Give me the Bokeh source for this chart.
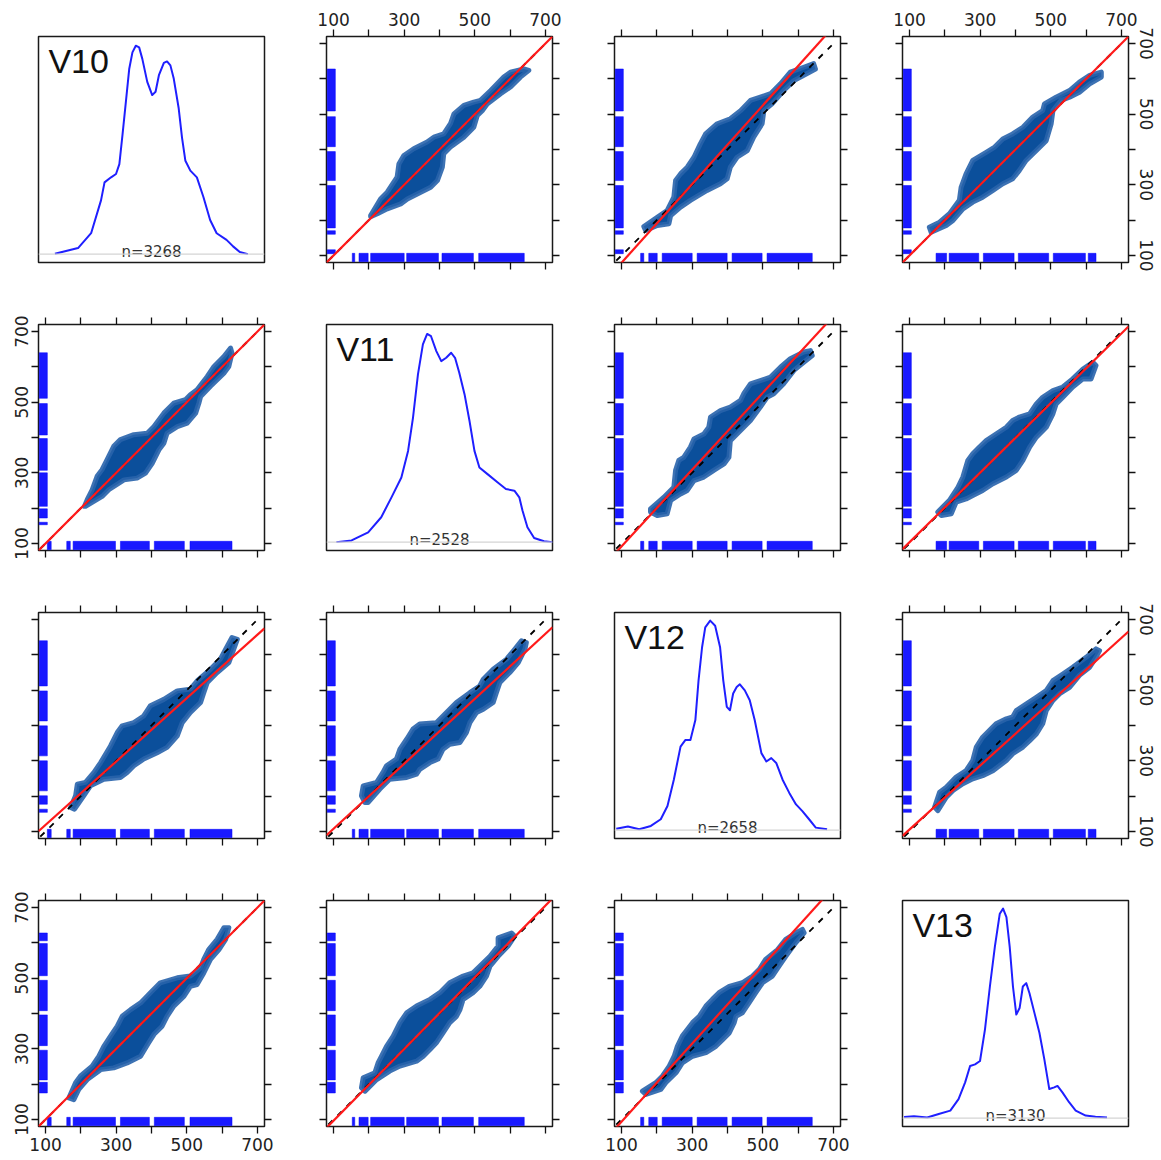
from bokeh.plotting import figure
from bokeh.layouts import gridplot
from bokeh.models import Range1d, LinearAxis, FixedTicker, Span
from bokeh.core.properties import value
from bokeh.embed import file_html
from bokeh.resources import INLINE

# ---------------- data ----------------
var_names = ["V10", "V11", "V12", "V13"]
n_obs = [3268, 2528, 2658, 3130]

axis_ticks = [100, 200, 300, 400, 500, 600, 700]
tick_labels = ["100", "", "300", "", "500", "", "700"]

# density curves (x in data units, y scaled so the peak ~ 1)
v10_dens_x = [126.5, 192, 229, 257, 267, 285.5, 299.5, 309, 318, 327.5, 337, 346, 355.5, 365, 374, 388, 402, 411.5,
              421, 435, 444, 453.5, 463, 477, 486.5, 496, 510, 528.5, 547, 566, 584.5, 612.5, 631, 650, 673]
v10_dens_y = [0.002, 0.029, 0.100, 0.257, 0.343, 0.367, 0.383, 0.430, 0.572, 0.729, 0.886, 0.964, 0.996, 0.988,
              0.933, 0.823, 0.760, 0.776, 0.855, 0.914, 0.921, 0.902, 0.839, 0.697, 0.556, 0.446, 0.399, 0.367,
              0.273, 0.163, 0.100, 0.068, 0.037, 0.010, 0.0]
v11_dens_x = [108, 151, 198, 235, 264, 292, 311, 325, 339, 353, 365, 376, 391, 405, 419, 433, 444, 456, 471, 485,
              499, 513, 536, 565, 588, 612, 626, 635, 649, 668, 696, 720]
v11_dens_y = [0.0, 0.008, 0.047, 0.119, 0.214, 0.309, 0.436, 0.595, 0.802, 0.945, 0.995, 0.984, 0.913, 0.865,
              0.881, 0.905, 0.881, 0.809, 0.706, 0.579, 0.436, 0.357, 0.325, 0.285, 0.254, 0.246, 0.214, 0.151,
              0.071, 0.020, 0.004, 0.0]
v12_dens_x = [85, 118, 150, 183, 211, 230, 248, 267, 281, 295, 309, 318, 328, 337, 351, 365, 379, 388, 398, 407,
              416, 426, 435, 449, 463, 477, 496, 510, 524, 538, 556, 575, 594, 612, 631, 650, 682]
v12_dens_y = [0.007, 0.017, 0.004, 0.020, 0.052, 0.115, 0.241, 0.399, 0.431, 0.431, 0.526, 0.716, 0.874, 0.969,
              1.001, 0.977, 0.874, 0.716, 0.589, 0.573, 0.653, 0.684, 0.697, 0.668, 0.621, 0.526, 0.368, 0.328,
              0.344, 0.321, 0.241, 0.178, 0.123, 0.091, 0.052, 0.012, 0.004]
v13_dens_x = [84.5, 112.5, 150, 182.6, 215.4, 238.7, 257.4, 271.4, 285.5, 299.5, 313.5, 327.5, 341.5, 355.5, 364.8,
              374.3, 383.6, 392.8, 402.3, 411.6, 420.8, 430.4, 439.6, 453.6, 467.7, 481.7, 495.7, 509.7, 518.9,
              532.9, 551.7, 570.5, 598.6, 626.6, 659.1]
v13_dens_y = [0.005, 0.009, 0.003, 0.020, 0.036, 0.091, 0.171, 0.249, 0.257, 0.273, 0.423, 0.629, 0.818, 0.977,
              1.001, 0.961, 0.818, 0.629, 0.495, 0.526, 0.629, 0.645, 0.597, 0.503, 0.408, 0.281, 0.139, 0.147,
              0.154, 0.123, 0.076, 0.036, 0.012, 0.007, 0.003]

# rug intervals (start, end) of each variable
v10_rug_start = [105, 160, 178, 312, 408, 509]
v10_rug_end = [116, 170, 298, 394, 493, 628]
v11_rug_start = [153, 172, 205, 307, 407, 511]
v11_rug_end = [160, 198, 300, 397, 496, 640]
v12_rug_start = [154, 177, 215, 314, 413, 512]
v12_rug_end = [163, 201, 300, 399, 498, 640]
v13_rug_start = [175, 212, 309, 408, 507, 606]
v13_rug_end = [205, 296, 396, 494, 598, 628]

# point-cloud outlines per pair (x = column variable, y = row variable of the upper panel)
pairs = [(0, 1), (0, 2), (0, 3), (1, 2), (1, 3), (2, 3)]
cloud_10_11_x = [205, 233, 252, 280, 285, 299, 327, 365, 384, 412, 431, 441, 469, 497, 516, 545, 582, 601, 639, 653,
                 629, 601, 573, 535, 521, 507, 497, 469, 431, 412, 408, 394, 375, 337, 309, 290, 252, 224, 205]
cloud_10_11_y = [213, 260, 279, 322, 359, 383, 402, 421, 435, 444, 473, 501, 525, 534, 539, 567, 605, 619, 628, 624,
                 605, 577, 558, 529, 510, 496, 463, 435, 407, 388, 350, 312, 293, 274, 260, 246, 232, 218, 210]
cloud_10_12_x = [163, 201, 229, 248, 253, 267, 286, 305, 323, 338, 371, 408, 437, 465, 493, 522, 550, 578, 616, 644,
                 649, 616, 588, 559, 526, 503, 498, 474, 456, 427, 408, 399, 380, 342, 295, 267, 239, 234, 201, 168]
cloud_10_12_y = [182, 208, 227, 265, 312, 331, 350, 378, 416, 444, 473, 487, 510, 539, 548, 558, 586, 619, 633, 643,
                 628, 610, 595, 567, 529, 510, 473, 435, 397, 378, 350, 317, 303, 284, 256, 237, 213, 190, 185, 171]
cloud_10_13_x = [156, 185, 213, 241, 246, 260, 279, 317, 341, 364, 392, 421, 449, 477, 482, 515, 553, 581, 610, 643,
                 643, 610, 581, 553, 529, 506, 501, 487, 459, 430, 411, 392, 364, 336, 307, 279, 251, 223, 204, 161]
cloud_10_13_y = [180, 194, 218, 256, 293, 331, 369, 392, 407, 430, 444, 463, 492, 510, 529, 548, 567, 591, 610, 619,
                 605, 586, 562, 548, 539, 510, 473, 425, 397, 369, 341, 317, 303, 284, 265, 251, 232, 199, 185, 166]
cloud_11_12_x = [182, 220, 248, 253, 262, 276, 295, 305, 333, 347, 352, 380, 408, 437, 446, 465, 493, 522, 550, 578,
                 616, 635, 640, 616, 588, 559, 531, 512, 493, 465, 446, 427, 408, 404, 390, 361, 333, 305, 286, 267,
                 239, 229, 201, 182]
cloud_11_12_y = [198, 231, 259, 307, 335, 344, 373, 396, 410, 429, 458, 476, 486, 505, 524, 552, 561, 571, 599, 623,
                 642, 646, 632, 613, 590, 552, 524, 514, 486, 448, 429, 410, 391, 344, 325, 307, 288, 278, 250, 240,
                 222, 184, 179, 189]
cloud_11_13_x = [180, 213, 237, 251, 265, 279, 298, 317, 345, 374, 392, 411, 440, 459, 477, 506, 534, 562, 591, 619,
                 628, 614, 591, 562, 534, 515, 506, 487, 459, 440, 421, 402, 374, 336, 307, 279, 260, 232, 218, 190]
cloud_11_13_y = [189, 222, 259, 288, 335, 354, 373, 391, 410, 429, 448, 458, 467, 495, 514, 533, 543, 566, 594, 613,
                 604, 566, 566, 543, 514, 495, 467, 429, 401, 373, 335, 307, 288, 269, 250, 236, 226, 217, 184, 179]
cloud_12_13_x = [171, 185, 204, 232, 260, 279, 289, 307, 326, 345, 374, 392, 402, 430, 459, 487, 506, 534, 562, 600,
                 628, 638, 628, 610, 581, 553, 525, 506, 487, 477, 459, 440, 421, 392, 374, 336, 307, 279, 251, 223,
                 204, 180]
cloud_12_13_y = [169, 211, 225, 254, 272, 301, 339, 367, 386, 405, 419, 424, 442, 461, 480, 499, 527, 546, 565, 593,
                 617, 612, 593, 565, 542, 508, 490, 471, 442, 405, 376, 357, 339, 320, 301, 272, 258, 249, 235, 216,
                 197, 159]

# fitted line (y = a + b*x) for each pair, upper-panel orientation
fit_a = [0.0, -32.0, 0.0, -17.0, 5.0, 15.3]
fit_b = [1.0, 1.114, 1.0, 1.087, 0.985, 0.904]
identity_span = [85, 695]

# ---------------- drawing ----------------
dens_x = [v10_dens_x, v11_dens_x, v12_dens_x, v13_dens_x]
dens_y = [v10_dens_y, v11_dens_y, v12_dens_y, v13_dens_y]
rug_start = [v10_rug_start, v11_rug_start, v12_rug_start, v13_rug_start]
rug_end = [v10_rug_end, v11_rug_end, v12_rug_end, v13_rug_end]
cloud_x = [cloud_10_11_x, cloud_10_12_x, cloud_10_13_x, cloud_11_12_x, cloud_11_13_x, cloud_12_13_x]
cloud_y = [cloud_10_11_y, cloud_10_12_y, cloud_10_13_y, cloud_11_12_y, cloud_11_13_y, cloud_12_13_y]

LO, HI = 80, 720
TICK_FONT_NAME = "DejaVu Sans"

col_w = [288, 288, 288, 296]
row_h = [288, 288, 288, 296]


def base_fig(r, c, yr):
    p = figure(width=col_w[c], height=row_h[r], x_range=Range1d(LO, HI), y_range=yr,
               x_axis_location=None, y_axis_location=None, toolbar_location=None,
               output_backend="svg", min_border_left=38, min_border_top=36,
               min_border_right=col_w[c] - 38 - 226, min_border_bottom=row_h[r] - 36 - 226)
    p.xgrid.visible = False
    p.ygrid.visible = False
    p.outline_line_color = "#1a1a1a"
    p.outline_line_width = 1.5
    p.background_fill_color = "white"
    p.border_fill_color = "white"
    return p


def add_axes(p, r, c):
    for side in ["above", "below", "left", "right"]:
        show = ((side == "above" and r == 0 and c % 2 == 1) or
                (side == "below" and r == 3 and c % 2 == 0) or
                (side == "left" and c == 0 and r % 2 == 1) or
                (side == "right" and c == 3 and r % 2 == 0))
        overrides = {t: (lab if show else "") for t, lab in zip(axis_ticks, tick_labels)}
        ax = LinearAxis(ticker=FixedTicker(ticks=axis_ticks, minor_ticks=[]),
                        major_label_overrides=overrides,
                        axis_line_color=None,
                        major_tick_line_color="#111111", major_tick_line_width=1.3,
                        major_tick_out=7, major_tick_in=0,
                        minor_tick_line_color=None,
                        major_label_standoff=4,
                        major_label_text_font=TICK_FONT_NAME,
                        major_label_text_font_size="17px",
                        major_label_text_color="#222222")
        if side in ("left", "right"):
            ax.major_label_orientation = "parallel"
        p.add_layout(ax, side)


rows = []
for r in range(4):
    row = []
    for c in range(4):
        if r == c:
            p = base_fig(r, c, Range1d(-0.04, 1.04))
            p.add_layout(Span(location=0, dimension="width", line_color="#d4d4d4", line_width=1.2))
            p.line(dens_x[r], dens_y[r], line_color="#1f1fff", line_width=2, line_join="round")
            p.text(x=[LO + 28], y=[1.012], text=[var_names[r]], text_font=value("Liberation Sans"),
                   text_font_size="34px", text_baseline="top", text_align="left", text_color="#111111")
            p.text(x=[(LO + HI) / 2], y=[0.012], text=[f"n={n_obs[r]}"], text_font=value(TICK_FONT_NAME),
                   text_font_size="15px", text_baseline="middle", text_align="center", text_color="#333333")
        else:
            p = base_fig(r, c, Range1d(LO, HI))
            if r < c:
                k = pairs.index((r, c))
                px, py = cloud_x[k], cloud_y[k]
                a, b = fit_a[k], fit_b[k]
                fy = [a + b * LO, a + b * HI]
            else:
                k = pairs.index((c, r))
                px, py = cloud_y[k], cloud_x[k]
                a, b = fit_a[k], fit_b[k]
                fy = [(LO - a) / b, (HI - a) / b]
            # rugs
            p.quad(left=rug_start[c], right=rug_end[c], bottom=82, top=106,
                   fill_color="#0000ff", line_color="#0000ff", line_width=0.5, fill_alpha=0.9)
            p.quad(left=82, right=105, bottom=rug_start[r], top=rug_end[r],
                   fill_color="#0000ff", line_color="#0000ff", line_width=0.5, fill_alpha=0.9)
            # point cloud (outline widened by the marker size)
            p.patch(px, py, fill_color="#0b4f9b", line_color="#2863ab", line_width=5,
                    line_join="round", line_alpha=0.9)
            # identity (dashed) and fitted (red) lines
            p.line(identity_span, identity_span, line_color="black", line_width=1.8, line_dash="6 7")
            p.line([LO, HI], fy, line_color="#ff1a1a", line_width=2.2)
            add_axes(p, r, c)
        row.append(p)
    rows.append(row)

grid = gridplot(rows, toolbar_location=None)
open("out.html", "w").write(file_html(grid, INLINE))
